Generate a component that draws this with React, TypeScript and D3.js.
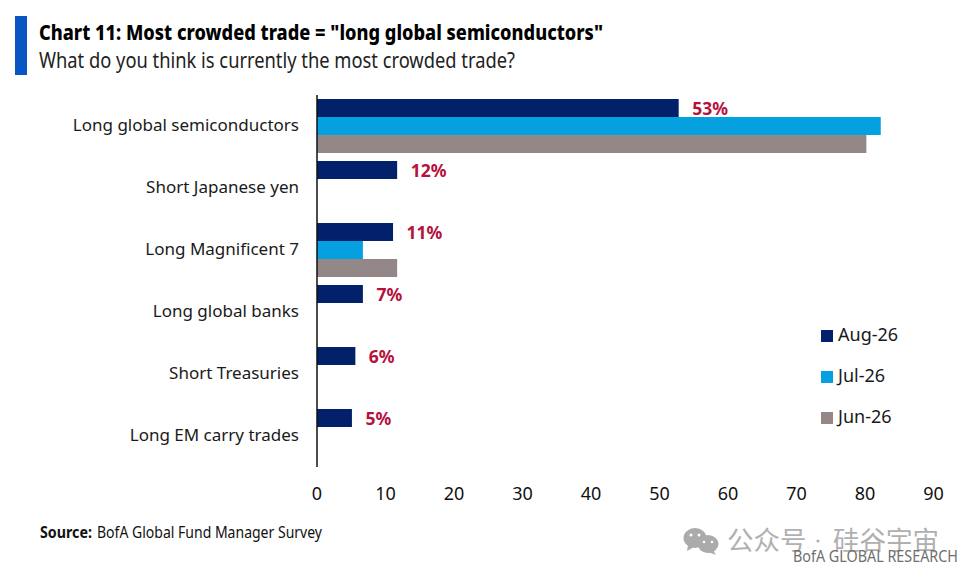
import React from "react";
import * as d3 from "d3";

const categories = ["Long global semiconductors", "Short Japanese yen", "Long Magnificent 7", "Long global banks", "Short Treasuries", "Long EM carry trades"];
const seriesNames = ["Aug-26", "Jul-26", "Jun-26"];
const aug = [52.8, 11.7, 11.1, 6.7, 5.6, 5.1];
const jul = [82.3, 0, 6.7, 0, 0, 0];
const jun = [80.2, 0, 11.7, 0, 0, 0];
const valueLabels = ["53%", "12%", "11%", "7%", "6%", "5%"];
const ticks = [0, 10, 20, 30, 40, 50, 60, 70, 80, 90];
const colors = ["#03206b", "#04a0e0", "#948788"];

const W = 970, H = 578;
const font = "'Noto Sans', sans-serif";
const cjk = "'Noto Sans CJK SC', sans-serif";

export default function App() {
  const x = d3.scaleLinear().domain([0, 90]).range([317, 933.5]);
  const y = d3.scaleBand<string>().domain(categories).range([95, 467]);
  const inner = d3.scaleBand<string>().domain(seriesNames).range([4, 58]);
  const all = [aug, jul, jun];
  return (
    <svg width={W} height={H} viewBox={`0 0 ${W} ${H}`} style={{ position: "absolute", left: 0, top: 0, background: "#fff" }}>
      <rect x={15} y={16} width={12} height={59} fill="#0a55c4" />
      <text x={39} y={40} fontFamily={font} fontWeight={800} fontSize={21} fill="#000" textLength={564} lengthAdjust="spacingAndGlyphs">Chart 11: Most crowded trade = "long global semiconductors"</text>
      <text x={39} y={68} fontFamily={font} fontSize={21} fill="#222" textLength={476} lengthAdjust="spacingAndGlyphs">What do you think is currently the most crowded trade?</text>

      {all.map((vals, s) =>
        categories.map((c, i) =>
          vals[i] > 0 ? (
            <rect key={`${s}-${c}`} x={x(0)} y={y(c)! + inner(seriesNames[s])!} width={x(vals[i]) - x(0)} height={inner.bandwidth()} fill={colors[s]} />
          ) : null
        )
      )}
      <line x1={x(0)} x2={x(0)} y1={95} y2={467} stroke="#111" strokeWidth={1.5} />

      {categories.map((c) => (
        <text key={c} x={299} y={y(c)! + 36} textAnchor="end" fontFamily={font} fontSize={17} fill="#1a1a1a">{c}</text>
      ))}
      {categories.map((c, i) => (
        <text key={c} x={x(aug[i]) + 13.5} y={y(c)! + 20} fontFamily={font} fontWeight={700} fontSize={17.5} fill="#b5123e">{valueLabels[i]}</text>
      ))}
      {ticks.map((t) => (
        <text key={t} x={x(t)} y={500} textAnchor="middle" fontFamily={font} fontSize={18} fill="#111">{t}</text>
      ))}
      {seriesNames.map((n, i) => (
        <g key={n}>
          <rect x={821} y={330 + i * 41} width={12} height={12} fill={colors[i]} />
          <text x={838} y={341 + i * 41} fontFamily={font} fontSize={18} fill="#1a1a1a">{n}</text>
        </g>
      ))}
      <text x={40} y={538} fontFamily={font} fontWeight={700} fontSize={16} fill="#111" textLength={52} lengthAdjust="spacingAndGlyphs">Source:</text>
      <text x={97} y={538} fontFamily={font} fontSize={16} fill="#111" textLength={225} lengthAdjust="spacingAndGlyphs">BofA Global Fund Manager Survey</text>

      <g fill="#ababab">
        <ellipse cx={695} cy={538} rx={11.5} ry={10} />
        <path d="M688 545 l-1 6 l7 -4 z" />
        <ellipse cx={708} cy={544} rx={10.5} ry={9} />
        <path d="M713 550 l3 5 l-8 -3 z" />
      </g>
      <g fill="#fff">
        <circle cx={691} cy={535} r={1.5} /><circle cx={699} cy={535} r={1.5} />
        <circle cx={704} cy={542} r={1.3} /><circle cx={712} cy={542} r={1.3} />
      </g>
      <text x={727} y={550} fontFamily={cjk} fontSize={26.5} fill="#b0b0b0">公众号</text>
      <circle cx={818} cy={541} r={1.6} fill="#b0b0b0" />
      <text x={833} y={550} fontFamily={cjk} fontSize={26.5} fill="#b0b0b0">硅谷宇宙</text>
      <text x={793} y={562} fontFamily={font} fontSize={15.5} fill="#6e6e6e" textLength={165} lengthAdjust="spacingAndGlyphs">BofA GLOBAL RESEARCH</text>
    </svg>
  );
}
